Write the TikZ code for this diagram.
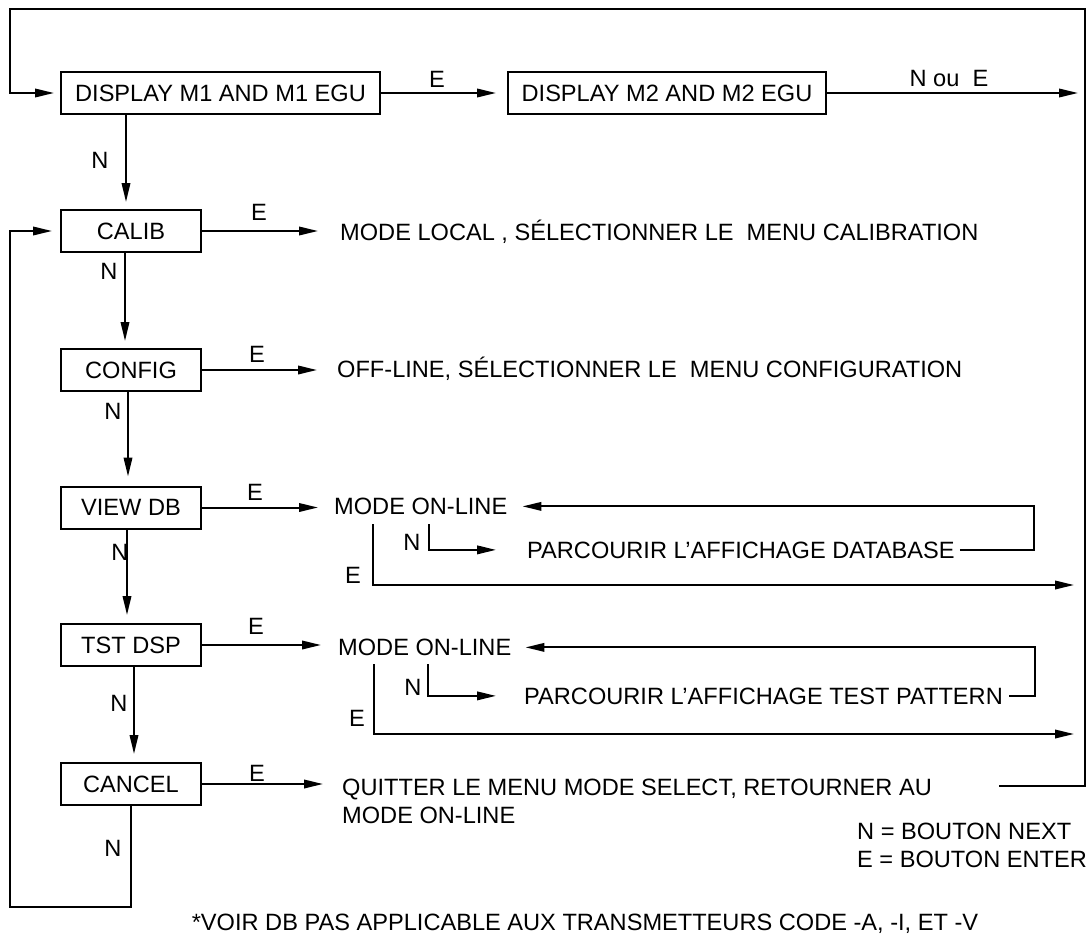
\documentclass[tikz,border=0pt]{standalone}
\usepackage{fontspec}
\setmainfont{Liberation Sans}
\usetikzlibrary{arrows.meta}
\begin{document}
\begin{tikzpicture}[x=1pt,y=-1pt,
  every node/.style={font=\fontsize{23.6}{28}\selectfont, inner sep=0pt},
  box/.style={draw, line width=2pt, minimum height=42pt},
  wbox/.style={box, minimum width=319pt},
  sbox/.style={box, minimum width=140pt},
  txt/.style={anchor=base west},
  conn/.style={line width=2pt},
  arr/.style={conn, -{Triangle[length=19pt,width=8.5pt]}},
]
\useasboundingbox (0,0) rectangle (1091,934);

% boxes
\node[wbox] (m1) at (220.5,93) {DISPLAY M1 AND M1 EGU};
\node[wbox, minimum width=318pt] (m2) at (667,93) {DISPLAY M2 AND M2 EGU};
\node[sbox] (calib) at (131,231) {CALIB};
\node[sbox] (config) at (131,370) {CONFIG};
\node[sbox] (viewdb) at (131,507.5) {VIEW DB};
\node[sbox] (tstdsp) at (131,645) {TST DSP};
\node[sbox] (cancel) at (131,784) {CANCEL};

% texts
\node[txt] (tcal) at (340,240) {MODE LOCAL , SÉLECTIONNER LE\ \ MENU CALIBRATION};
\node[txt] (tcfg) at (337,377) {OFF-LINE, SÉLECTIONNER LE\ \ MENU CONFIGURATION};
\node[txt] (on1) at (334,514.5) {MODE ON-LINE};
\node[txt] (p1) at (527,558) {PARCOURIR L’AFFICHAGE DATABASE};
\node[txt] (on2) at (338,655.5) {MODE ON-LINE};
\node[txt] (p2) at (524,704) {PARCOURIR L’AFFICHAGE TEST PATTERN};
\node[anchor=north west, align=left] (quit) at (342,779) {QUITTER LE MENU MODE SELECT, RETOURNER AU\\MODE ON-LINE};
\node[anchor=north west, align=left] (legend) at (857,823) {N = BOUTON NEXT\\E = BOUTON ENTER};
\node[anchor=base] (foot) at (585,930) {*VOIR DB PAS APPLICABLE AUX TRANSMETTEURS CODE -A, -I, ET -V};

% coordinates
\coordinate (tl) at (10,9);
\coordinate (tr) at (1085,9);
\coordinate (br) at (1085,786);
\coordinate (qe) at (999,786);
\coordinate (bl) at (10,907);
\coordinate (v1) at (373,524);
\coordinate (v2) at (429,524);
\coordinate (rx1) at (1034,550);
\coordinate (e1) at (1085,585);
\coordinate (v3) at (374,664);
\coordinate (v4) at (428,664);
\coordinate (rx2) at (1035,695);
\coordinate (e2) at (1085,734);

% top loop
\draw[arr, shorten >=6pt] (qe) -- (br) -- (tr) -- (tl) |- (m1.west);
\draw[arr, shorten >=11pt] (m1.east) -- (m2.west);
\node (le0) at (437,79) {E};
\draw[arr, shorten >=7pt] (m2.east) -- (m2.east -| br);
\node (lne) at (949,78) {N ou\ \ E};

% N chain
\draw[arr, shorten >=7pt] ([xshift=66pt]m1.south west) -- ([xshift=66pt]calib.north west);
\node (n1) at (100,160) {N};
\draw[arr, shorten >=7pt] ([xshift=65pt]calib.south west) -- ([xshift=65pt]config.north west);
\node (n2) at (109,271) {N};
\draw[arr, shorten >=9pt] ([xshift=68pt]config.south west) -- ([xshift=68pt]viewdb.north west);
\node (n3) at (113,411) {N};
\draw[arr, shorten >=8pt] ([xshift=67pt]viewdb.south west) -- ([xshift=67pt]tstdsp.north west);
\node (n4) at (120,552) {N};
\draw[arr, shorten >=8pt] ([xshift=74pt]tstdsp.south west) -- ([xshift=74pt]cancel.north west);
\node (n5) at (119,703) {N};
\draw[arr, shorten >=8pt] ([xshift=71pt]cancel.south west) |- (bl) |- (calib.west);
\node (n6) at (113,848) {N};

% E arrows
\draw[arr, shorten >=22pt] (calib.east) -- (calib.east -| tcal.west);
\node (e1l) at (259,212) {E};
\draw[arr, shorten >=20pt] (config.east) -- (config.east -| tcfg.west);
\node (e2l) at (257,354) {E};
\draw[arr, shorten >=16pt] (viewdb.east) -- (viewdb.east -| on1.west);
\node (e3l) at (255,492) {E};
\draw[arr, shorten >=17pt] (tstdsp.east) -- (tstdsp.east -| on2.west);
\node (e4l) at (256,626) {E};
\draw[arr, shorten >=19pt] (cancel.east) -- (cancel.east -| quit.west);
\node (e5l) at (257,773) {E};

% VIEW DB sub-loop
\draw[arr, shorten >=15pt] ([xshift=5pt]p1.east) -- (p1.east -| rx1) |- (on1.east);
\draw[arr, shorten >=31pt] (v2) |- (p1.west);
\node (nb1) at (412,542) {N};
\draw[arr, shorten >=11pt] (v1) |- (e1);
\node (eb1) at (353,575) {E};

% TST DSP sub-loop
\draw[arr, shorten >=14pt] ([xshift=6pt]p2.east) -- (p2.east -| rx2) |- (on2.east);
\draw[arr, shorten >=28pt] (v4) |- (p2.west);
\node (nb2) at (413,687) {N};
\draw[arr, shorten >=11pt] (v3) |- (e2);
\node (eb2) at (357,718) {E};
\end{tikzpicture}
\end{document}
